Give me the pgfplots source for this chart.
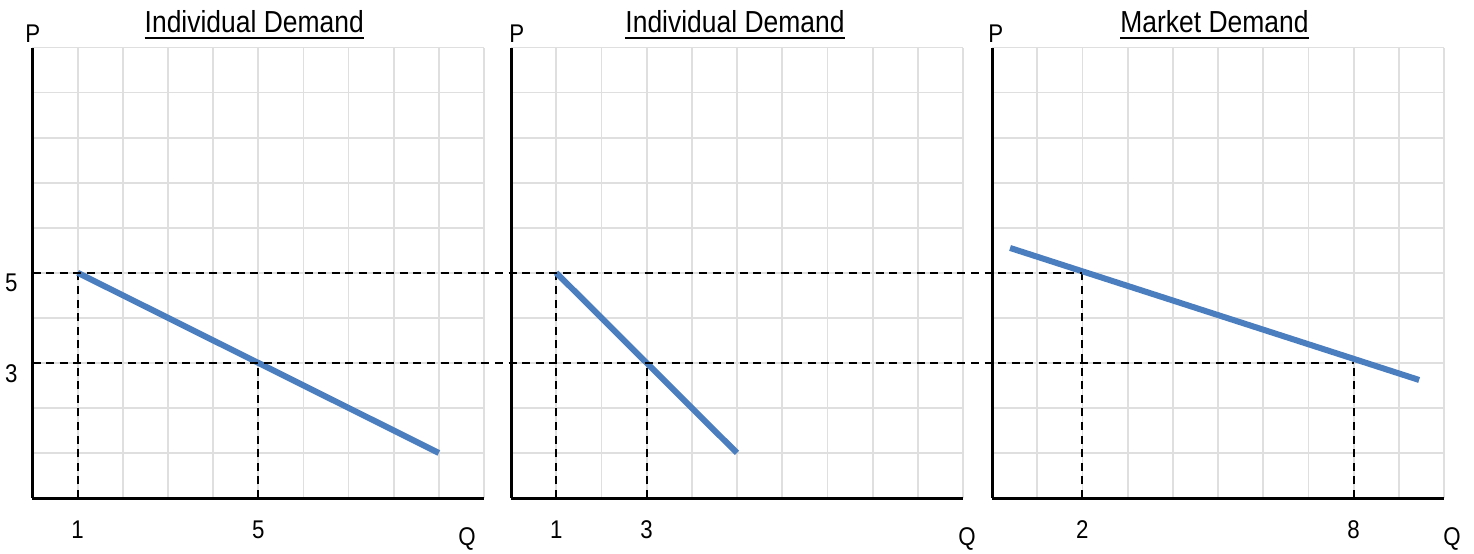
\documentclass[border=0pt]{standalone}
\usepackage{fontspec}
\setmainfont{Liberation Sans}[FakeStretch=0.87]
\usepackage{pgfplots}
\pgfplotsset{compat=1.18}
\definecolor{lineblue}{RGB}{74,126,191}
\newcommand\ul[1]{\setbox0\hbox{#1}\leavevmode\rlap{\rule[-3.6pt]{\wd0}{1pt}}\box0}
\newcommand\lab{\fontsize{12.8}{15}\selectfont}
\newcommand\ttl{\fontsize{15.2}{18}\selectfont}
\tikzset{
  demand/.style={lineblue, line width=3pt},
  guide/.style={black, line width=1pt, dash pattern=on 4pt off 2.8pt},
}
\pgfplotsset{
  econ/.style={
    scale only axis, height=225.25pt,
    xmin=0, xmax=10, ymin=0, ymax=10,
    axis x line=bottom, axis y line=left,
    axis line style={-, line width=1.5pt, black},
    xtick={0,...,10}, ytick={0,...,10},
    yticklabels={{},{},{},{},{},{},{},{},{},{},{}},
    major tick length=0pt,
    grid=major, grid style={gray!25, line width=0.9pt},
    tick label style={font=\lab, inner sep=0pt},
    xticklabel style={anchor=north, yshift=-11pt},
    yticklabel style={anchor=north east, xshift=-7.25pt, yshift=-0.6pt},
    clip=false, anchor=south west,
  },
}
\begin{document}
\begin{tikzpicture}
\path (0,0) rectangle (737pt,276.5pt);
% Panel 1
\begin{axis}[econ, at={(16.25pt,27.5pt)}, width=225.75pt,
  xticklabels={{},{1},{},{},{},{5},{},{},{},{},{}},
  yticklabels={{},{},{},{3},{},{5},{},{},{},{},{}}]
  \addplot[guide] coordinates {(1,0) (1,5)};
  \addplot[guide] coordinates {(5,0) (5,3)};
  \addplot[demand] coordinates {(1,5) (9,1)};
  \coordinate (A5) at (axis cs:0,5);
  \coordinate (A3) at (axis cs:0,3);
  \node[anchor=base, inner sep=0pt, font=\ttl, xshift=-2pt, yshift=7.75pt] at (rel axis cs:0.5,1) {\ul{Individual Demand}};
  \node[anchor=south west, inner sep=0pt, font=\lab, xshift=-3.75pt, yshift=2.4pt] at (rel axis cs:0,1) {P};
  \node[anchor=base west, inner sep=0pt, font=\lab, xshift=-13pt, yshift=-23.5pt] at (rel axis cs:1,0) {Q};
\end{axis}
% Panel 2
\begin{axis}[econ, at={(255.5pt,27.5pt)}, width=226pt,
  xticklabels={{},{1},{},{3},{},{},{},{},{},{},{}}]
  \addplot[guide] coordinates {(1,0) (1,5)};
  \addplot[guide] coordinates {(3,0) (3,3)};
  \addplot[demand] coordinates {(1,5) (5,1)};
  \node[anchor=base, inner sep=0pt, font=\ttl, xshift=-1pt, yshift=7.75pt] at (rel axis cs:0.5,1) {\ul{Individual Demand}};
  \node[anchor=south west, inner sep=0pt, font=\lab, xshift=-1pt, yshift=2.4pt] at (rel axis cs:0,1) {P};
  \node[anchor=base west, inner sep=0pt, font=\lab, xshift=-2.5pt, yshift=-23.5pt] at (rel axis cs:1,0) {Q};
\end{axis}
% Panel 3
\begin{axis}[econ, at={(496pt,27.5pt)}, width=226pt,
  xticklabels={{},{},{2},{},{},{},{},{},{8},{},{}}]
  \addplot[guide] coordinates {(2,0) (2,5)};
  \addplot[guide] coordinates {(8,0) (8,3)};
  \addplot[demand] coordinates {(0.4,5.55) (9.45,2.62)};
  \coordinate (C5) at (axis cs:2,5);
  \coordinate (C3) at (axis cs:8,3);
  \node[anchor=base, inner sep=0pt, font=\ttl, xshift=-1.75pt, yshift=7.75pt] at (rel axis cs:0.5,1) {\ul{Market Demand}};
  \node[anchor=south west, inner sep=0pt, font=\lab, xshift=-2pt, yshift=2.4pt] at (rel axis cs:0,1) {P};
  \node[anchor=base west, inner sep=0pt, font=\lab, xshift=-0.5pt, yshift=-23.5pt] at (rel axis cs:1,0) {Q};
\end{axis}
\draw[guide] (A5) -- (C5);
\draw[guide] (A3) -- (C3);
\end{tikzpicture}
\end{document}
